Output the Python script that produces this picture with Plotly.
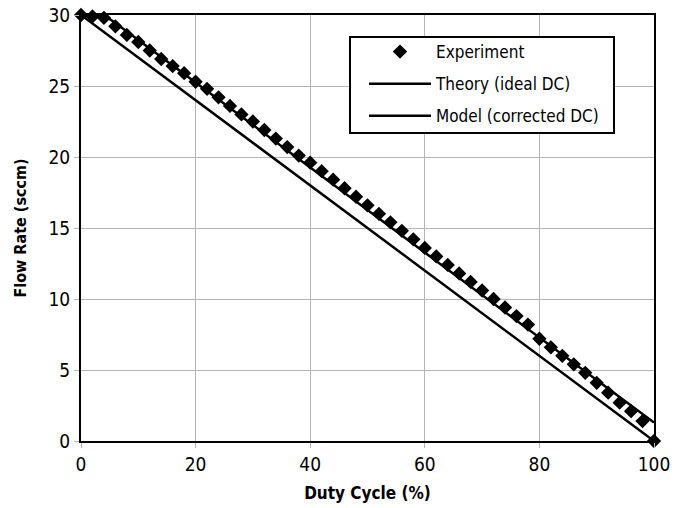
import plotly.graph_objects as go

# Duty cycle settings (%) at which flow was measured / computed
duty_cycle = [0, 2, 4, 6, 8, 10, 12, 14, 16, 18, 20, 22, 24, 26, 28, 30, 32, 34, 36, 38,
              40, 42, 44, 46, 48, 50, 52, 54, 56, 58, 60, 62, 64, 66, 68, 70, 72, 74, 76,
              78, 80, 82, 84, 86, 88, 90, 92, 94, 96, 98, 100]

# Measured flow rate (sccm)
experiment = [30.0, 29.9, 29.8, 29.2, 28.6, 28.1, 27.5, 26.9, 26.4, 25.9, 25.3, 24.8,
              24.2, 23.6, 23.0, 22.5, 21.9, 21.3, 20.7, 20.1, 19.6, 19.0, 18.4, 17.8,
              17.2, 16.6, 16.0, 15.4, 14.8, 14.2, 13.6, 13.0, 12.4, 11.8, 11.2, 10.6,
              10.0, 9.4, 8.8, 8.2, 7.2, 6.6, 6.0, 5.4, 4.8, 4.1, 3.4, 2.7, 2.1, 1.4, 0.0]

# Ideal duty-cycle theory: linear from full flow to zero
theory_dc = [0, 100]
theory_flow = [30.0, 0.0]

# Model with corrected duty cycle (saturates at full flow)
model_flow = [30.0, 30.0, 30.0, 29.43, 28.84, 28.24, 27.64, 27.04, 26.44, 25.84, 25.24,
              24.65, 24.05, 23.45, 22.85, 22.25, 21.65, 21.05, 20.45, 19.86, 19.26, 18.66,
              18.06, 17.46, 16.86, 16.27, 15.67, 15.07, 14.47, 13.87, 13.27, 12.67, 12.07,
              11.48, 10.88, 10.28, 9.68, 9.08, 8.48, 7.88, 7.29, 6.69, 6.09, 5.49, 4.89,
              4.29, 3.70, 3.10, 2.50, 1.90, 1.30]

FONT = "DejaVu Sans Condensed, Liberation Sans Narrow, Arial Narrow, sans-serif"

# plot area in pixels (for placing the legend frame)
W, H = 681, 508
L, R, T, B = 81, 27, 15, 67
PW, PH = W - L - R, H - T - B


def px_x(p):
    return (p - L) / PW


def px_y(p):
    return (H - B - p) / PH


fig = go.Figure()
fig.add_trace(go.Scatter(
    x=theory_dc, y=theory_flow, mode="lines", name="Theory (ideal DC)",
    line=dict(color="black", width=2.5), legendgroup="b", legendrank=2,
))
fig.add_trace(go.Scatter(
    x=duty_cycle, y=model_flow, mode="lines", name="Model (corrected DC)",
    line=dict(color="black", width=2.5), legendgroup="c", legendrank=3,
))
fig.add_trace(go.Scatter(
    x=duty_cycle, y=experiment, mode="markers", name="Experiment",
    marker=dict(symbol="diamond", size=11, color="black"),
    cliponaxis=False, legendgroup="a", legendrank=1,
))

axis_common = dict(
    showgrid=True, gridcolor="#b4b4b4", gridwidth=1,
    showline=True, linecolor="black", linewidth=2, mirror=True,
    ticks="outside", ticklen=5, tickcolor="#b4b4b4",
    zeroline=False, automargin=False,
    tickfont=dict(family=FONT, size=19, color="black"),
)

fig.update_xaxes(range=[0, 100], dtick=20,
                 title=dict(text="<b>Duty Cycle (%)</b>",
                            font=dict(family=FONT, size=17, color="black"), standoff=13),
                 **axis_common)
fig.update_yaxes(range=[0, 30], dtick=5,
                 title=dict(text="<b>Flow Rate (sccm)</b>",
                            font=dict(family=FONT, size=16, color="black"), standoff=18),
                 **axis_common)

# legend frame
fig.add_shape(type="rect", xref="paper", yref="paper",
              x0=px_x(350), x1=px_x(614), y0=px_y(133), y1=px_y(37),
              line=dict(color="black", width=2), fillcolor="white", layer="above")

fig.update_layout(
    width=W, height=H,
    margin=dict(l=L, r=R, t=T, b=B),
    paper_bgcolor="white", plot_bgcolor="white",
    showlegend=True,
    legend=dict(
        x=px_x(364), y=px_y(34), xanchor="left", yanchor="top",
        bgcolor="rgba(0,0,0,0)", borderwidth=0,
        font=dict(family=FONT, size=17, color="black"),
        tracegroupgap=7, itemwidth=62,
        traceorder="grouped",
    ),
)

fig.write_html("out.html")
